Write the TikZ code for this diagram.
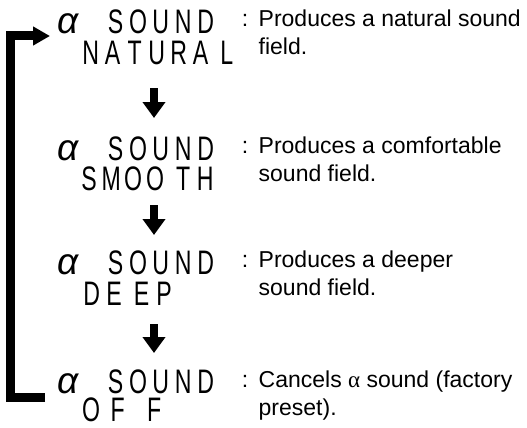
\documentclass[tikz,border=0pt]{standalone}
\usepackage{fontspec}
\usepackage{graphicx}
\setmainfont{Liberation Sans}
\newfontfamily\dispfont{Liberation Sans}
\newfontfamily\grserif{Liberation Serif}
\usetikzlibrary{arrows.meta}
\newlength{\dpitch}
\newcommand{\dc}[1]{\makebox[\dpitch][c]{\scalebox{0.68}[1]{#1}}}
\tikzset{
  disp/.style={anchor=base west, inner sep=0pt, text height=24pt, text depth=0pt, font=\dispfont\fontsize{34}{34}\selectfont},
  alp/.style={anchor=base, inner sep=0pt, text height=18pt, text depth=0pt, font=\dispfont\itshape\fontsize{37}{37}\selectfont},
  colon/.style={anchor=base, inner sep=0pt, font=\fontsize{23}{28}\selectfont},
  descr/.style={anchor=base west, inner sep=0pt, font=\fontsize{23}{28}\selectfont},
  downarrow/.style={line width=8pt, -{Triangle[length=16pt,width=22pt]}},
  loopback/.style={line width=9pt, line join=miter, -{Triangle[length=17pt,width=18pt]}}
}
\newcommand{\twolines}[2]{\begin{tabular}[t]{@{}l@{}}#1\\#2\end{tabular}}
\begin{document}
\begin{tikzpicture}[x=1pt,y=1pt]
\useasboundingbox (0,0) rectangle (527,-428);
% Row 1
\node[alp] (a1) at (68,-34) {α};
\node[disp] (s1) at (104.25,-34) {\setlength{\dpitch}{22.5pt}\dc{S}\dc{O}\dc{U}\dc{N}\dc{D}};
\node[disp] (w1) at (79.5,-64) {\setlength{\dpitch}{22pt}\dc{N}\dc{A}\dc{T}\dc{U}\dc{R}\dc{A}\hspace{4pt}\dc{L}};
\node[colon] (c1) at (245,-27) {:};
\node[descr] (t1) at (258.5,-27) {\twolines{Produces a natural sound}{field.}};
% Row 2
\node[alp] (a2) at (68,-160) {α};
\node[disp] (s2) at (104.25,-160) {\setlength{\dpitch}{22.5pt}\dc{S}\dc{O}\dc{U}\dc{N}\dc{D}};
\node[disp] (w2) at (78,-190) {\setlength{\dpitch}{22pt}\dc{S}\dc{M}\dc{O}\dc{O}\hspace{6pt}\dc{T}\dc{H}};
\node[colon] (c2) at (245,-153) {:};
\node[descr] (t2) at (258.5,-153) {\twolines{Produces a comfortable}{sound field.}};
% Row 3
\node[alp] (a3) at (68,-274) {α};
\node[disp] (s3) at (104.25,-274) {\setlength{\dpitch}{22.5pt}\dc{S}\dc{O}\dc{U}\dc{N}\dc{D}};
\node[disp] (w3) at (80.25,-305) {\setlength{\dpitch}{22.5pt}\dc{D}\dc{E}\hspace{5pt}\dc{E}\dc{P}};
\node[colon] (c3) at (245,-267) {:};
\node[descr] (t3) at (258.5,-267) {\twolines{Produces a deeper}{sound field.}};
% Row 4
\node[alp] (a4) at (68,-393) {α};
\node[disp] (s4) at (104.25,-393) {\setlength{\dpitch}{22.5pt}\dc{S}\dc{O}\dc{U}\dc{N}\dc{D}};
\node[disp] (w4) at (79.75,-421) {\setlength{\dpitch}{22.5pt}\dc{O}\hspace{4pt}\dc{F}\hspace{14pt}\dc{F}};
\node[colon] (c4) at (245,-387) {:};
\node[descr] (t4) at (258.5,-387) {\twolines{Cancels {\grserif α} sound (factory}{preset).}};
% Down arrows
\coordinate (d1s) at (154,-88);  \coordinate (d1e) at (154,-118);
\coordinate (d2s) at (154,-205); \coordinate (d2e) at (154,-235);
\coordinate (d3s) at (154,-324); \coordinate (d3e) at (154,-353);
\draw[downarrow] (d1s) -- (d1e);
\draw[downarrow] (d2s) -- (d2e);
\draw[downarrow] (d3s) -- (d3e);
% Loop back bracket
\coordinate (b1) at (45,-397);
\coordinate (b2) at (10.5,-397);
\coordinate (b3) at (10.5,-36);
\coordinate (b4) at (50,-36);
\draw[loopback] (b1) -- (b2) -- (b3) -- (b4);
\end{tikzpicture}
\end{document}
